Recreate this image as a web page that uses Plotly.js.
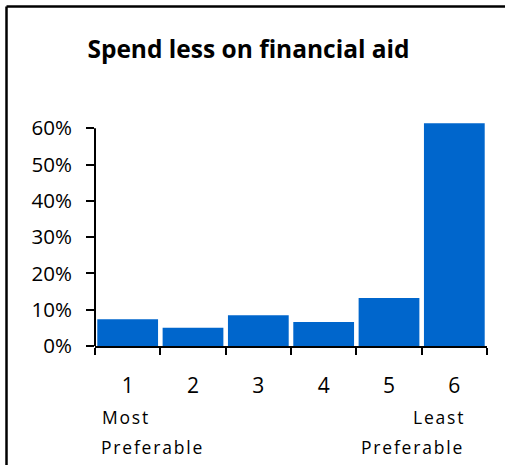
<!DOCTYPE html>
<html>
<head>
<meta charset="utf-8">
<script src="https://cdn.plot.ly/plotly-3.0.1.min.js"></script>
<style>
html,body{margin:0;padding:0;background:#fff;}
#chart{width:505px;height:465px;}
.annotation-text{letter-spacing:1.8px;}
</style>
</head>
<body>
<div id="chart"></div>
<script>
// Data
const categories = ["1", "2", "3", "4", "5", "6"];
const shares = [0.074, 0.050, 0.085, 0.066, 0.132, 0.614];
const yTickVals = [0, 0.1, 0.2, 0.3, 0.4, 0.5, 0.6];
const yTickText = ["0%", "10%", "20%", "30%", "40%", "50%", "60%"];
const chartTitle = "Spend less on financial aid";
const leftLabel = ["Most", "Preferable"];
const rightLabel = ["Least", "Preferable"];

const W = 505, H = 465;
const mL = 95, mR = 18, mT = 121, mB = 119;
const pw = W - mL - mR, ph = H - mT - mB;
const px = v => (v - mL) / pw;
const py = v => (H - mB - v) / ph;

const FONT = "Open Sans, sans-serif";

const trace = {
  type: "bar",
  x: categories,
  y: shares,
  marker: {color: "#0066CC", line: {width: 0}},
  hoverinfo: "x+y"
};

const annFont = {family: FONT, size: 17.5, color: "#000"};
const layout = {
  width: W, height: H,
  margin: {l: mL, r: mR, t: mT, b: mB, pad: 0},
  paper_bgcolor: "#fff",
  plot_bgcolor: "#fff",
  showlegend: false,
  bargap: 0.07,
  title: {
    text: "<b>" + chartTitle + "</b>",
    font: {family: FONT, size: 24.5, color: "#000"},
    x: 248.5 / W, xanchor: "center",
    y: 1 - 49 / H, yanchor: "middle",
    xref: "container", yref: "container"
  },
  xaxis: {
    type: "category",
    showline: true, linecolor: "#000", linewidth: 2,
    ticks: "outside", tickson: "boundaries", ticklen: 7, tickwidth: 2, tickcolor: "#000",
    ticklabelstandoff: 20,
    tickfont: {family: FONT, size: 21, color: "#000"},
    showgrid: false, zeroline: false, fixedrange: true
  },
  yaxis: {
    range: [0, 0.62],
    tickvals: yTickVals, ticktext: yTickText,
    showline: false,
    ticks: "outside", ticklen: 8, tickwidth: 2, tickcolor: "#000",
    ticklabelstandoff: 10,
    tickfont: {family: FONT, size: 20.5, color: "#000"},
    showgrid: false, zeroline: false, fixedrange: true
  },
  shapes: [
    {type: "line", xref: "paper", yref: "y", x0: 0, x1: 0, y0: 0, y1: 0.6,
     line: {color: "#000", width: 2}},
    {type: "line", xref: "paper", yref: "paper", x0: px(6.5), x1: px(505), y0: py(6.5), y1: py(6.5),
     line: {color: "#000", width: 2.5}},
    {type: "line", xref: "paper", yref: "paper", x0: px(6.5), x1: px(6.5), y0: py(6.5), y1: py(465),
     line: {color: "#000", width: 2.5}}
  ],
  annotations: [
    {text: leftLabel[0], xref: "paper", yref: "paper", x: px(100), y: py(417), xanchor: "left", yanchor: "middle", showarrow: false, font: annFont},
    {text: leftLabel[1], xref: "paper", yref: "paper", x: px(99), y: py(447), xanchor: "left", yanchor: "middle", showarrow: false, font: annFont},
    {text: rightLabel[0], xref: "paper", yref: "paper", x: px(467), y: py(417), xanchor: "right", yanchor: "middle", showarrow: false, font: annFont},
    {text: rightLabel[1], xref: "paper", yref: "paper", x: px(466), y: py(447), xanchor: "right", yanchor: "middle", showarrow: false, font: annFont}
  ]
};

Plotly.newPlot("chart", [trace], layout, {displayModeBar: false, staticPlot: true});
</script>
</body>
</html>
